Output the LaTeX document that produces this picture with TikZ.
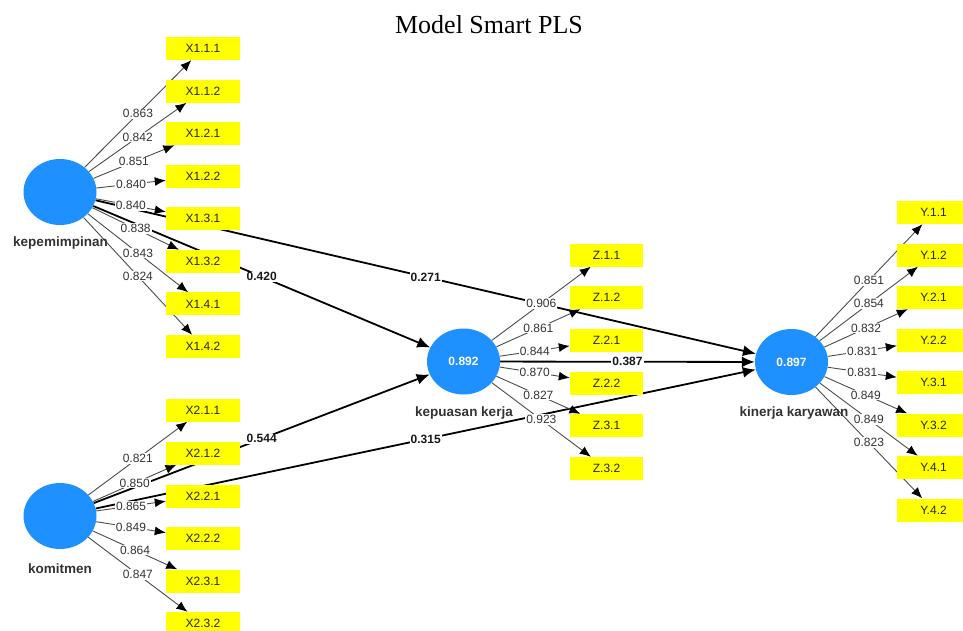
\documentclass[tikz,border=0pt]{standalone}
\usepackage{fontspec}
\usetikzlibrary{shapes.geometric,arrows.meta}
\newfontfamily\arialf{Liberation Sans}
\newfontfamily\timesf{Liberation Serif}
\definecolor{lvblue}{RGB}{30,144,255}
\definecolor{mvyellow}{RGB}{255,255,0}
\definecolor{ink}{RGB}{51,51,51}

\pgfdeclarelayer{edges}
\pgfsetlayers{edges,main}

\tikzset{
  mv/.style={rectangle, fill=mvyellow, minimum width=74pt, minimum height=23pt,
    inner sep=0pt, font=\arialf\fontsize{12}{14}\selectfont, text=black!85},
  lv/.style={ellipse, fill=lvblue, minimum width=73pt, minimum height=66pt,
    inner sep=0pt, text=white, font=\arialf\bfseries\fontsize{12}{14}\selectfont},
  lvname/.style={font=\arialf\bfseries\fontsize{13.5}{15}\selectfont, text=ink},
  load/.style={draw=black!70, line width=0.9pt, -{Latex[length=11pt,width=9pt,color=black]}},
  pathc/.style={draw=black, line width=1.8pt, -{Latex[length=13pt,width=11pt]}},
  ldlbl/.style={fill=white, inner sep=1pt, font=\arialf\fontsize{12}{14}\selectfont, text=ink},
  pclbl/.style={fill=white, inner sep=1pt, font=\arialf\bfseries\fontsize{12}{14}\selectfont, text=black!90},
}

\begin{document}
\begin{tikzpicture}[x=1pt,y=-1pt]
\path[use as bounding box] (0,0) rectangle (963,630);
\clip (0,0) rectangle (963,630);

% title
\node[font=\timesf\fontsize{26}{30}\selectfont, anchor=base] (title) at (489,33) {Model Smart PLS};

% latent variables
\node[lv] (kp)  at (60,192) {};
\node[lv] (km)  at (60,516) {};
\node[lv] (kpk) at (463.5,361.5) {0.892};
\node[lv] (kk)  at (791.5,362) {0.897};

\node[lvname] (kpname)  at (60.5,243) {kepemimpinan};
\node[lvname] (kmname)  at (60,569) {komitmen};
\node[lvname] (kpkname) at (464,413) {kepuasan kerja};
\node[lvname] (kkname)  at (794,413) {kinerja karyawan};

% indicators
\foreach \i/\t/\y in {1/X1.1.1/48.5, 2/X1.1.2/91.1, 3/X1.2.1/133.6, 4/X1.2.2/176.2,
                      5/X1.3.1/218.8, 6/X1.3.2/261.4, 7/X1.4.1/303.9, 8/X1.4.2/346.5}
  \node[mv] (a\i) at (203,\y) {\t};
\foreach \i/\t/\y in {1/X2.1.1/410, 2/X2.1.2/453, 3/X2.2.1/496,
                      4/X2.2.2/538.5, 5/X2.3.1/581, 6/X2.3.2/623.5}
  \node[mv] (b\i) at (203,\y) {\t};
\foreach \i/\t/\y in {1/Z.1.1/255, 2/Z.1.2/297.5, 3/Z.2.1/340.5,
                      4/Z.2.2/383.5, 5/Z.3.1/425.5, 6/Z.3.2/468.5}
  \node[mv, minimum width=73pt] (z\i) at (606.5,\y) {\t};
\foreach \i/\t/\y in {1/Y.1.1/212.5, 2/Y.1.2/255, 3/Y.2.1/297.5, 4/Y.2.2/340,
                      5/Y.3.1/382.5, 6/Y.3.2/425, 7/Y.4.1/467.5, 8/Y.4.2/510}
  \node[mv, minimum width=73pt] (y\i) at (933.5,\y) {\t};

\begin{pgfonlayer}{edges}
  % structural paths
  \draw[pathc] (kp)  -- (kpk);
  \draw[pathc] (kp)  -- (kk);
  \draw[pathc] (km)  -- (kpk);
  \draw[pathc] (km)  -- (kk);
  \draw[pathc] (kpk) -- (kk);

  % outer loadings
  \foreach \i/\v in {1/0.863, 2/0.842, 3/0.851, 4/0.840, 5/0.840, 6/0.838, 7/0.843, 8/0.824}
    \draw[load] (kp) -- node[ldlbl] {\v} (a\i);
  \foreach \i/\v in {1/0.821, 2/0.850, 3/0.865, 4/0.849, 5/0.864, 6/0.847}
    \draw[load] (km) -- node[ldlbl] {\v} (b\i);
  \foreach \i/\v in {1/0.906, 2/0.861, 3/0.844, 4/0.870, 5/0.827, 6/0.923}
    \draw[load] (kpk) -- node[ldlbl] {\v} (z\i);
  \foreach \i/\v in {1/0.851, 2/0.854, 3/0.832, 4/0.831, 5/0.831, 6/0.849, 7/0.849, 8/0.823}
    \draw[load] (kk) -- node[ldlbl] {\v} (y\i);

  % path coefficients
  \path (kp)  -- node[pclbl] {0.420} (kpk);
  \path (kp)  -- node[pclbl] {0.271} (kk);
  \path (km)  -- node[pclbl] {0.544} (kpk);
  \path (km)  -- node[pclbl] {0.315} (kk);
  \path (kpk) -- node[pclbl] {0.387} (kk);
\end{pgfonlayer}
\end{tikzpicture}
\end{document}
